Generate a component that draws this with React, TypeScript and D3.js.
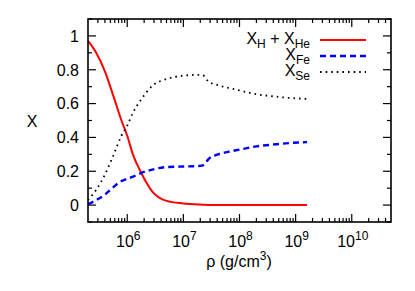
import * as d3 from "d3";

// density grid (g/cm^3)
const rho = [
  2.0e5, 2.8e5, 4.0e5, 5.6e5, 7.9e5, 1.0e6, 1.26e6, 1.78e6, 2.8e6, 5.0e6,
  1.0e7, 2.0e7, 2.3e7, 2.8e7, 4.0e7, 6.3e7, 1.0e8, 2.0e8, 4.0e8, 8.0e8, 1.6e9,
];
const xHHe = [
  0.97, 0.9, 0.79, 0.65, 0.5, 0.41, 0.3, 0.19, 0.08, 0.025,
  0.01, 0.003, 0.002, 0.001, 0.001, 0.001, 0.0, 0.0, 0.0, 0.0, 0.0,
];
const xFe = [
  0.005, 0.03, 0.062, 0.105, 0.142, 0.155, 0.168, 0.19, 0.21, 0.225,
  0.228, 0.232, 0.236, 0.272, 0.298, 0.315, 0.328, 0.347, 0.358, 0.367, 0.372,
];
const xSe = [
  0.03, 0.09, 0.18, 0.29, 0.41, 0.47, 0.545, 0.625, 0.705, 0.745,
  0.765, 0.77, 0.765, 0.73, 0.71, 0.693, 0.678, 0.655, 0.643, 0.633, 0.628,
];

const xMajorExp = [6, 7, 8, 9, 10];
const yTicks = [0, 0.2, 0.4, 0.6, 0.8, 1];
const yTickLabels = ["0", "0.2", "0.4", "0.6", "0.8", "1"];
const yMinor = [-0.1, 0.1, 0.3, 0.5, 0.7, 0.9, 1.1];

const W = 415;
const H = 291;
const L = 88, R = 391, T = 19, B = 222;
const FONT = "'Liberation Sans', Arial, Helvetica, sans-serif";
const FS = 16;
const SUB = 12;

export default function App() {
  const x = d3.scaleLog().domain([2e5, 5e10]).range([L, R]);
  const y = d3.scaleLinear().domain([-0.1, 1.1]).range([B, T]);

  const line = d3
    .line<number>()
    .x((_, i) => x(rho[i]))
    .y((d) => y(d))
    .curve(d3.curveMonotoneX);

  // minor log ticks
  const xMinor: number[] = [];
  for (let e = 5; e <= 10; e++) {
    for (let k = 2; k <= 9; k++) {
      const v = k * Math.pow(10, e);
      if (v > 2e5 && v < 5e10) xMinor.push(v);
    }
  }

  const major = 8;
  const minor = 4;
  const tickStroke = { stroke: "#000", strokeWidth: 1.2 };

  const legend = [
    { y: 40, color: "#ff0000", dash: undefined, w: 2 },
    { y: 56, color: "#0000ff", dash: "6,4", w: 2.4 },
    { y: 72, color: "#000", dash: "1.6,4", w: 1.8 },
  ];

  return (
    <svg
      width={W}
      height={H}
      style={{ position: "absolute", left: 0, top: 0, background: "#fff" }}
      fontFamily={FONT}
    >
      <rect width={W} height={H} fill="#fff" />

      {/* ticks bottom/top */}
      {xMajorExp.map((e) => {
        const px = x(Math.pow(10, e));
        return (
          <g key={"xM" + e}>
            <line x1={px} x2={px} y1={B} y2={B - major} {...tickStroke} />
            <line x1={px} x2={px} y1={T} y2={T + major} {...tickStroke} />
            <text x={px + 1} y={247} textAnchor="middle" fontSize={FS}>
              10<tspan fontSize={SUB} dy={-7}>{e}</tspan>
            </text>
          </g>
        );
      })}
      {xMinor.map((v, i) => {
        const px = x(v);
        return (
          <g key={"xm" + i}>
            <line x1={px} x2={px} y1={B} y2={B - minor} {...tickStroke} />
            <line x1={px} x2={px} y1={T} y2={T + minor} {...tickStroke} />
          </g>
        );
      })}

      {/* ticks left/right */}
      {yTicks.map((v, i) => {
        const py = y(v);
        return (
          <g key={"yM" + i}>
            <line x1={L} x2={L + major} y1={py} y2={py} {...tickStroke} />
            <line x1={R} x2={R - major} y1={py} y2={py} {...tickStroke} />
            <text x={79} y={py + 5.8} textAnchor="end" fontSize={FS}>
              {yTickLabels[i]}
            </text>
          </g>
        );
      })}
      {yMinor.map((v, i) => {
        const py = y(v);
        return (
          <g key={"ym" + i}>
            <line x1={L} x2={L + minor} y1={py} y2={py} {...tickStroke} />
            <line x1={R} x2={R - minor} y1={py} y2={py} {...tickStroke} />
          </g>
        );
      })}

      {/* curves */}
      <path d={line(xHHe) || ""} fill="none" stroke="#ff0000" strokeWidth={2} />
      <path d={line(xFe) || ""} fill="none" stroke="#0000ff" strokeWidth={2.4} strokeDasharray="6,4" />
      <path d={line(xSe) || ""} fill="none" stroke="#000" strokeWidth={1.8} strokeDasharray="1.6,4" />

      {/* frame */}
      <rect x={L} y={T} width={R - L} height={B - T} fill="none" stroke="#000" strokeWidth={1.6} />

      {/* legend */}
      <text x={310} y={44} textAnchor="end" fontSize={FS}>
        X<tspan fontSize={SUB} dy={4}>H</tspan>
        <tspan dy={-4}> + X</tspan>
        <tspan fontSize={SUB} dy={4}>He</tspan>
      </text>
      <text x={310} y={60} textAnchor="end" fontSize={FS}>
        X<tspan fontSize={SUB} dy={4}>Fe</tspan>
      </text>
      <text x={310} y={76} textAnchor="end" fontSize={FS}>
        X<tspan fontSize={SUB} dy={4}>Se</tspan>
      </text>
      {legend.map((l, i) => (
        <line
          key={"lg" + i}
          x1={320}
          x2={366}
          y1={l.y}
          y2={l.y}
          stroke={l.color}
          strokeWidth={l.w}
          strokeDasharray={l.dash}
        />
      ))}

      {/* axis labels */}
      <text x={32} y={127} textAnchor="middle" fontSize={FS}>X</text>
      <text x={239} y={267} textAnchor="middle" fontSize={FS}>
        ρ (g/cm<tspan fontSize={SUB} dy={-7}>3</tspan>
        <tspan dy={7}>)</tspan>
      </text>
    </svg>
  );
}
